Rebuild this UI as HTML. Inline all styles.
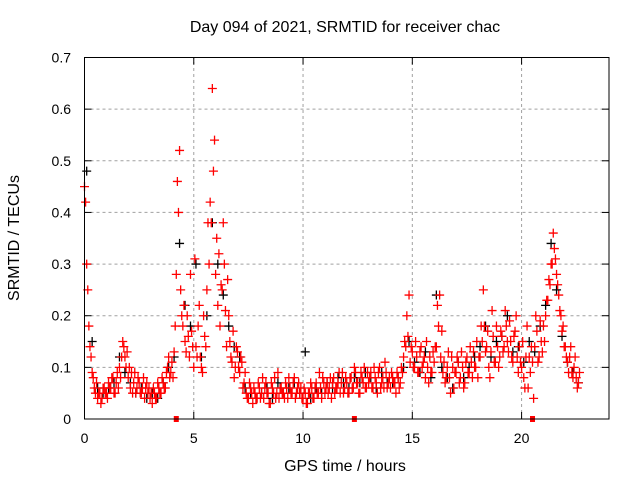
<!DOCTYPE html>
<html><head><meta charset="utf-8"><style>
html,body{margin:0;padding:0;background:#fff}
svg{display:block;font-family:"Liberation Sans",sans-serif}
</style></head><body>
<svg id="chart" width="640" height="480" viewBox="0 0 640 480" xmlns="http://www.w3.org/2000/svg">
<rect width="640" height="480" fill="#fff"/>
<text x="345" y="32" text-anchor="middle" font-size="16">Day 094 of 2021, SRMTID for receiver chac</text>
<text x="345" y="471" text-anchor="middle" font-size="16">GPS time / hours</text>
<text transform="translate(19,238) rotate(-90)" text-anchor="middle" font-size="16">SRMTID / TECUs</text>
<g id="grid"></g>
<g id="ticks"></g>
<g id="black"></g>
<g id="red"></g>
<g id="marks"></g>
<rect x="84.5" y="57.5" width="524.5" height="361.5" fill="none" stroke="#000" stroke-width="1"/>
</svg>
<script>
const xTicks=[0,5,10,15,20];
const yTicks=[0,0.1,0.2,0.3,0.4,0.5,0.6,0.7];
const yTickLabels=["0","0.1","0.2","0.3","0.4","0.5","0.6","0.7"];
const redStep=0.1;
const redLow=[0.45,0.30,0.18,0.12,0.08,0.05,0.04,0.05,0.04,0.06,
0.05,0.07,0.06,0.08,0.05,0.09,0.10,0.12,0.14,0.10,
0.08,0.06,0.05,0.09,0.06,0.07,0.05,0.08,0.06,0.05,
0.04,0.03,0.05,0.04,0.06,0.05,0.07,0.06,0.10,0.08,
0.11,0.13,0.28,0.40,0.25,0.18,0.15,0.20,0.12,0.17,
0.10,0.14,0.18,0.12,0.09,0.16,0.25,0.30,0.38,0.48,
0.28,0.22,0.18,0.25,0.30,0.14,0.20,0.12,0.17,0.10,
0.13,0.09,0.11,0.07,0.05,0.04,0.06,0.03,0.05,0.04,
0.06,0.05,0.04,0.07,0.05,0.03,0.06,0.08,0.05,0.04,
0.06,0.05,0.07,0.04,0.06,0.05,0.08,0.05,0.07,0.06,
0.04,0.05,0.03,0.05,0.06,0.04,0.07,0.05,0.06,0.08,
0.05,0.07,0.06,0.04,0.08,0.06,0.07,0.05,0.09,0.06,
0.07,0.05,0.08,0.06,0.09,0.07,0.05,0.08,0.10,0.06,
0.07,0.09,0.06,0.08,0.05,0.10,0.07,0.06,0.09,0.07,
0.06,0.08,0.07,0.09,0.06,0.10,0.12,0.14,0.16,0.11,
0.13,0.10,0.12,0.09,0.14,0.11,0.08,0.10,0.12,0.09,
0.11,0.14,0.18,0.12,0.09,0.07,0.10,0.08,0.12,0.06,
0.09,0.11,0.08,0.10,0.07,0.12,0.09,0.11,0.13,0.10,
0.08,0.12,0.15,0.18,0.14,0.10,0.13,0.16,0.11,0.14,
0.12,0.16,0.14,0.18,0.13,0.15,0.11,0.17,0.12,0.14,
0.10,0.08,0.12,0.06,0.09,0.11,0.14,0.17,0.12,0.15,
0.18,0.20,0.23,0.26,0.30,0.33,0.28,0.24,0.20,0.18,
0.14,0.11,0.12,0.09,0.10,0.08,0.07];
const redHigh=[0.42,0.25,0.14,0.09,0.06,0.07,0.05,0.03,0.06,0.05,
0.04,0.06,0.08,0.05,0.07,0.06,0.08,0.15,0.12,0.13,
0.10,0.09,0.07,0.05,0.08,0.05,0.06,0.04,0.07,0.06,
0.05,0.06,0.04,0.07,0.05,0.08,0.06,0.09,0.12,0.09,
0.08,0.18,0.46,0.52,0.20,0.22,0.13,0.16,0.28,0.14,
0.31,0.12,0.22,0.10,0.20,0.14,0.38,0.42,0.64,0.54,
0.35,0.32,0.26,0.38,0.21,0.27,0.15,0.11,0.08,0.14,
0.10,0.12,0.06,0.09,0.04,0.07,0.05,0.06,0.04,0.07,
0.04,0.08,0.06,0.05,0.03,0.07,0.05,0.04,0.09,0.06,
0.05,0.04,0.06,0.08,0.05,0.07,0.04,0.06,0.05,0.04,
0.06,0.03,0.05,0.07,0.04,0.06,0.05,0.09,0.04,0.07,
0.06,0.05,0.08,0.07,0.05,0.06,0.09,0.07,0.05,0.08,
0.05,0.08,0.06,0.10,0.07,0.05,0.09,0.07,0.06,0.09,
0.08,0.06,0.10,0.07,0.09,0.06,0.08,0.11,0.06,0.08,
0.09,0.07,0.05,0.08,0.07,0.09,0.15,0.20,0.24,0.14,
0.10,0.15,0.09,0.13,0.10,0.12,0.15,0.07,0.09,0.13,
0.14,0.22,0.24,0.17,0.11,0.08,0.13,0.05,0.10,0.09,
0.12,0.07,0.13,0.06,0.11,0.09,0.14,0.08,0.10,0.15,
0.12,0.18,0.25,0.13,0.17,0.08,0.21,0.11,0.18,0.10,
0.17,0.13,0.21,0.15,0.19,0.12,0.16,0.20,0.09,0.11,
0.15,0.06,0.18,0.12,0.14,0.04,0.20,0.11,0.19,0.13,
0.15,0.23,0.27,0.30,0.36,0.31,0.26,0.21,0.17,0.14,
0.12,0.09,0.14,0.08,0.12,0.06,0.09];
const blackStep=0.25;
const blackVals=[0.48,0.15,0.06,0.05,0.06,0.07,0.12,0.09,0.07,0.05,0.06,0.04,
0.05,0.04,0.07,0.10,0.12,0.34,0.22,0.18,0.30,0.12,0.20,0.38,
0.30,0.24,0.18,0.14,0.12,0.06,0.05,0.04,0.05,0.06,0.04,0.07,
0.05,0.06,0.07,0.05,0.13,0.04,0.06,0.05,0.07,0.06,0.08,0.07,
0.06,0.08,0.07,0.09,0.08,0.06,0.09,0.07,0.07,0.08,0.10,0.15,
0.11,0.09,0.13,0.08,0.24,0.10,0.08,0.06,0.11,0.08,0.10,0.12,
0.14,0.18,0.12,0.15,0.16,0.20,0.13,0.14,0.11,0.15,0.13,0.18,
0.22,0.34,0.25,0.16,0.11,0.09,0.07];
const gapHours=[4.2,12.35,20.5];

const NS="http://www.w3.org/2000/svg";
const X0=84.5,X1=609,Y0=419,Y1=57.5;
function xs(h){return X0+(X1-X0)*h/24;}
function ys(v){return Y0-(Y0-Y1)*v/0.7;}
function mk(tag,attrs,parent){const e=document.createElementNS(NS,tag);for(const k in attrs)e.setAttribute(k,attrs[k]);parent.appendChild(e);return e;}
const grid=document.getElementById('grid'),ticks=document.getElementById('ticks');
xTicks.forEach(t=>{const x=xs(t);
 if(t>0){const g=mk('line',{x1:x,x2:x,y1:Y0,y2:Y1,stroke:'#a0a0a0','stroke-dasharray':'3,3'},grid);
 }
 mk('line',{x1:x,x2:x,y1:Y0,y2:Y0-7,stroke:'#000'},ticks);
 mk('line',{x1:x,x2:x,y1:Y1,y2:Y1+7,stroke:'#000'},ticks);
 const l=mk('text',{x:x,y:443,'text-anchor':'middle','font-size':'14'},ticks);l.textContent=String(t);
 
});
yTicks.forEach((t,i)=>{const y=ys(t);
 if(i>0&&i<yTicks.length-1){const g=mk('line',{x1:X0,x2:X1,y1:y,y2:y,stroke:'#a0a0a0','stroke-dasharray':'3,3'},grid);
 }
 mk('line',{x1:X0,x2:X0+7,y1:y,y2:y,stroke:'#000'},ticks);
 mk('line',{x1:X1,x2:X1-7,y1:y,y2:y,stroke:'#000'},ticks);
 const l=mk('text',{x:71,y:y+5,'text-anchor':'end','font-size':'14'},ticks);l.textContent=yTickLabels[i];
 
});
function plus(parent,h,v,col){const x=xs(h),y=ys(v);
 const p=mk('path',{d:`M${x-4.5},${y}H${x+4.5}M${x},${y-4.5}V${y+4.5}`,stroke:col,'stroke-width':'1.3',fill:'none'},parent);
 }
const bg=document.getElementById('black'),rg=document.getElementById('red');
blackVals.forEach((v,i)=>plus(bg,i*blackStep+0.1,v,'#000'));
redLow.forEach((v,i)=>plus(rg,i*redStep,v,'#ff0000'));
redHigh.forEach((v,i)=>plus(rg,i*redStep+0.05,v,'#ff0000'));
const mg=document.getElementById('marks');
gapHours.forEach(h=>{const r=mk('rect',{x:xs(h)-2.5,y:Y0-3,width:5,height:6,fill:'#ff0000'},mg);
 });
</script>
</body></html>
